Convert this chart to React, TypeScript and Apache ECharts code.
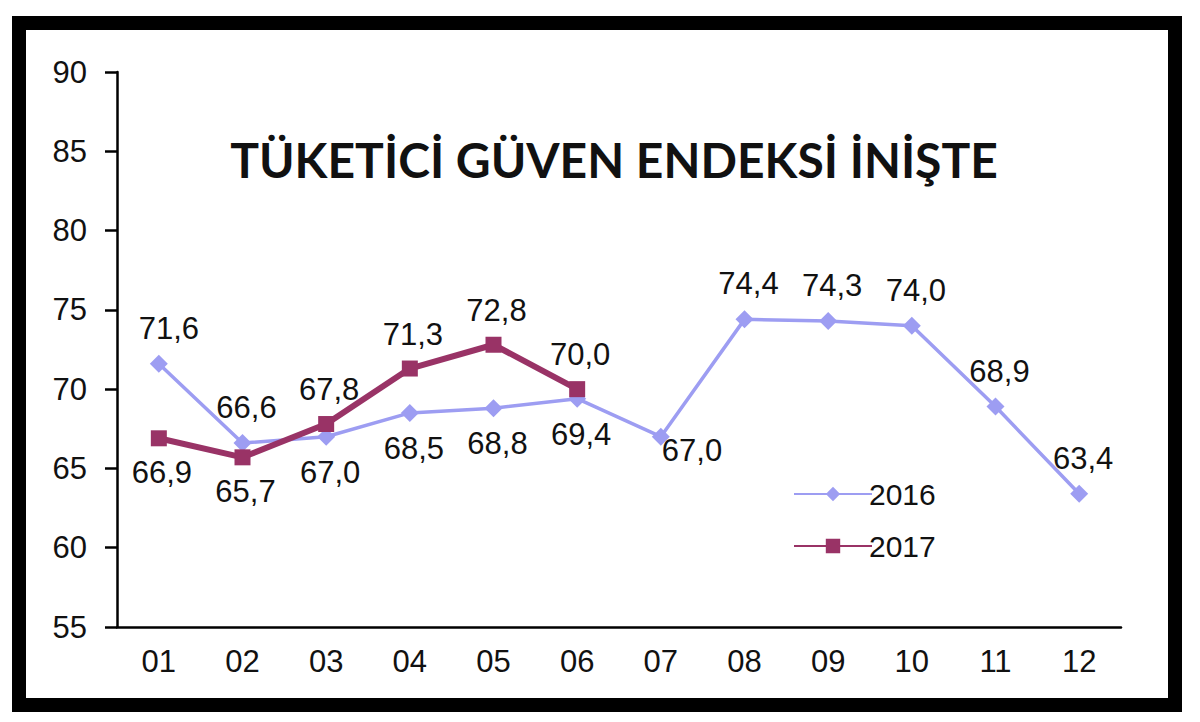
import { useEffect, useRef } from 'react';
import * as echarts from 'echarts';

const months = ['01', '02', '03', '04', '05', '06', '07', '08', '09', '10', '11', '12'];
const values2016 = [71.6, 66.6, 67.0, 68.5, 68.8, 69.4, 67.0, 74.4, 74.3, 74.0, 68.9, 63.4];
const values2017 = [66.9, 65.7, 67.8, 71.3, 72.8, 70.0];
// where each data label sits relative to its point
const labelPos2016 = ['top', 'top', 'bottom', 'bottom', 'bottom', 'bottom', 'right', 'top', 'top', 'top', 'top', 'top'];
const labelPos2017 = ['bottom', 'bottom', 'top', 'top', 'top', 'top'];

const fmt = (v: number) => v.toFixed(1).replace('.', ',');
const FONT = "'Liberation Sans', Arial, sans-serif";

export default function App() {
  const chartRef = useRef<HTMLDivElement>(null);

  useEffect(() => {
    if (!chartRef.current) return;
    const chart = echarts.init(chartRef.current, undefined, { renderer: 'svg' });

    const labelStyle = { show: true, fontSize: 31, fontFamily: FONT, color: '#111', distance: 11 };

    const option: echarts.EChartsOption = {
      animation: false,
      backgroundColor: '#fff',
      title: {
        text: 'TÜKETİCİ GÜVEN ENDEKSİ İNİŞTE',
        left: 609,
        top: 130,
        textAlign: 'center',
        textStyle: { fontFamily: 'Lato, sans-serif', fontWeight: 'bold', fontSize: 48, color: '#111' },
      },
      graphic: [
        {
          type: 'rect',
          shape: { x: 19, y: 23, width: 1156, height: 682 },
          style: { fill: 'none', stroke: '#000', lineWidth: 14 },
          silent: true,
        },
      ],
      legend: {
        orient: 'vertical',
        left: 788,
        top: 474,
        itemWidth: 78,
        itemHeight: 18,
        itemGap: 22,
        textStyle: { fontSize: 30, fontFamily: FONT, color: '#111', padding: [0, 0, 0, -8] },
        data: ['2016', '2017'],
      },
      grid: { left: 117, right: 79, top: 72, bottom: 95 },
      xAxis: {
        type: 'category',
        data: months,
        boundaryGap: true,
        axisLine: { lineStyle: { color: '#000', width: 2.5 } },
        axisTick: { alignWithLabel: true, length: 8, lineStyle: { color: '#000', width: 2.5 } },
        axisLabel: { fontSize: 31, fontFamily: FONT, color: '#111', margin: 19 },
      },
      yAxis: {
        type: 'value',
        min: 55,
        max: 90,
        interval: 5,
        splitLine: { show: false },
        axisLine: { show: true, lineStyle: { color: '#000', width: 2.5 } },
        axisTick: { show: true, length: 12, lineStyle: { color: '#000', width: 2.5 } },
        axisLabel: { fontSize: 31, fontFamily: FONT, color: '#111', margin: 30 },
      },
      series: [
        {
          name: '2016',
          type: 'line',
          data: values2016.map((v, i) => ({
            value: v,
            label: {
              position: labelPos2016[i] as any,
              distance: labelPos2016[i] === 'right' ? 0 : 11,
              offset: i === 0 ? [10, 0] : labelPos2016[i] === 'right' ? [-8, 14] : [4, 0],
            },
          })),
          symbol: 'diamond',
          symbolSize: 18,
          lineStyle: { color: '#9d9df2', width: 3.5 },
          itemStyle: { color: '#9d9df2' },
          label: { ...labelStyle, formatter: (p: any) => fmt(p.value) },
          z: 2,
        },
        {
          name: '2017',
          type: 'line',
          data: values2017.map((v, i) => ({
            value: v,
            label: { position: labelPos2017[i] as any, offset: [3, 0] },
          })),
          symbol: 'rect',
          symbolSize: 16,
          lineStyle: { color: '#993366', width: 6 },
          itemStyle: { color: '#993366' },
          label: { ...labelStyle, formatter: (p: any) => fmt(p.value) },
          z: 3,
        },
      ],
    };

    chart.setOption(option);
    return () => chart.dispose();
  }, []);

  return <div ref={chartRef} style={{ position: 'fixed', left: 0, top: 0, width: 1200, height: 722 }} />;
}
